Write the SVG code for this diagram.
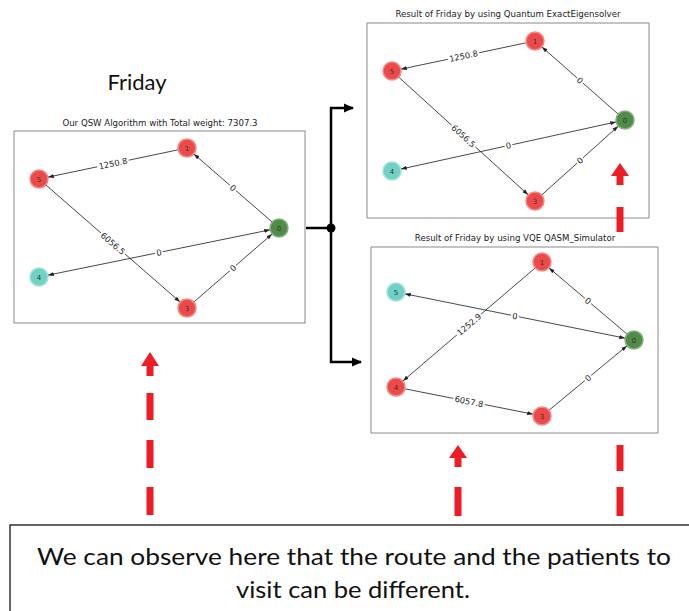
<svg xmlns="http://www.w3.org/2000/svg" width="689" height="611" viewBox="0 0 689 611">
<defs>
<style>
.panel{fill:#fff;stroke:#8a8a8a;stroke-width:1}
.ptitle{font-family:"DejaVu Sans",sans-serif;font-size:8.6px;fill:#222;text-anchor:middle}
.e{stroke:#333;stroke-width:0.9;fill:none;marker-end:url(#ah)}
.eb{stroke:#333;stroke-width:0.9;fill:none;marker-end:url(#ah);marker-start:url(#ahs)}
.lbl{font-family:"DejaVu Sans",sans-serif;font-size:8.3px;fill:#222;text-anchor:middle}
.lbg{fill:#fff}
.red{fill:#ec4a4a;stroke:#f58a87;stroke-width:1.5}
.green{fill:#4e8c48;stroke:#84b27e;stroke-width:1.5}
.teal{fill:#6fd2c4;stroke:#a2e2d9;stroke-width:1.5}
.nt{font-family:"DejaVu Sans",sans-serif;font-size:7px;fill:#333;text-anchor:middle}
.ra{fill:#ee1c24}
.big{font-family:Lato,"Open Sans",sans-serif;fill:#111}
</style>
<marker id="ah" markerUnits="userSpaceOnUse" markerWidth="6" markerHeight="6" viewBox="0 0 6 6" refX="6" refY="3" orient="auto"><path d="M0,1 L6,3 L0,5 Z" fill="#222"/></marker>
<marker id="ahs" markerUnits="userSpaceOnUse" markerWidth="6" markerHeight="6" viewBox="0 0 6 6" refX="6" refY="3" orient="auto-start-reverse"><path d="M0,1 L6,3 L0,5 Z" fill="#222"/></marker>
<marker id="bk" markerUnits="userSpaceOnUse" markerWidth="10" markerHeight="10" viewBox="0 0 10 10" refX="9" refY="5" orient="auto"><path d="M0,0.5 L10,5 L0,9.5 Z" fill="#000"/></marker>
</defs>
<rect width="689" height="611" fill="#fff"/>

<text id="friday" class="big" x="137" y="90" font-size="22" text-anchor="middle">Friday</text>

<!-- Left panel -->
<g id="panel-qsw">
<text class="ptitle" x="160" y="126" font-size="9">Our QSW Algorithm with Total weight: 7307.3</text>
<rect class="panel" x="14" y="131" width="291" height="192"/>
</g>
<!-- Top-right panel -->
<g id="panel-exact">
<text class="ptitle" x="508" y="17">Result of Friday by using Quantum ExactEigensolver</text>
<rect class="panel" x="367" y="23" width="282" height="195"/>
</g>
<!-- Bottom-right panel -->
<g id="panel-vqe">
<text class="ptitle" x="515" y="241">Result of Friday by using VQE QASM_Simulator</text>
<rect class="panel" x="371" y="247" width="287" height="186"/>
</g>

<g id="connectors">
<!-- left graph -->
<line class="e" x1="178.2" y1="149.8" x2="47.8" y2="177.2"/>
<line class="e" x1="272.2" y1="222.1" x2="193.8" y2="153.9"/>
<line class="e" x1="45.8" y1="184.9" x2="180.2" y2="302.1"/>
<line class="eb" x1="270.2" y1="229.8" x2="47.8" y2="275.2"/>
<line class="e" x1="193.8" y1="302.1" x2="272.2" y2="233.9"/>
<!-- top-right graph -->
<line class="e" x1="526.2" y1="42.8" x2="400.8" y2="69.2"/>
<line class="e" x1="618.2" y1="114.1" x2="541.8" y2="46.9"/>
<line class="e" x1="398.7" y1="77.1" x2="528.3" y2="194.9"/>
<line class="eb" x1="616.2" y1="121.9" x2="400.8" y2="169.1"/>
<line class="e" x1="541.7" y1="195" x2="618.3" y2="126"/>
<!-- bottom-right graph -->
<line class="e" x1="627.1" y1="334.2" x2="548.9" y2="267.8"/>
<line class="eb" x1="625.2" y1="338.2" x2="404.8" y2="293.8"/>
<line class="e" x1="535.2" y1="267.9" x2="402.8" y2="381.1"/>
<line class="e" x1="404.8" y1="388.8" x2="533.2" y2="414.2"/>
<line class="e" x1="548.9" y1="410.3" x2="627.1" y2="345.7"/>
<!-- black flow connector -->
<g id="flow" stroke="#000" stroke-width="2.5" fill="none">
<line x1="306" y1="228" x2="331" y2="228"/>
<polyline points="331,228 331,108 353,108" marker-end="url(#bk)"/>
<polyline points="331,228 331,362 361,362" marker-end="url(#bk)"/>
</g>
<circle cx="331" cy="228" r="4.5" fill="#000"/>
</g>

<!-- edge labels -->
<g id="edge-labels">
<g transform="translate(113,163.5) rotate(-11.8)"><rect class="lbg" x="-16" y="-5" width="32" height="10"/><text class="lbl" y="3">1250.8</text></g>
<g transform="translate(233,188) rotate(41)"><rect class="lbg" x="-4" y="-5" width="8" height="10"/><text class="lbl" y="3">0</text></g>
<g transform="translate(113,243.5) rotate(41.1)"><rect class="lbg" x="-16" y="-5" width="32" height="10"/><text class="lbl" y="3">6056.5</text></g>
<g transform="translate(159,252.5) rotate(-11.5)"><rect class="lbg" x="-4" y="-5" width="8" height="10"/><text class="lbl" y="3">0</text></g>
<g transform="translate(233,268) rotate(-41)"><rect class="lbg" x="-4" y="-5" width="8" height="10"/><text class="lbl" y="3">0</text></g>

<g transform="translate(463.5,56) rotate(-11.8)"><rect class="lbg" x="-16" y="-5" width="32" height="10"/><text class="lbl" y="3">1250.8</text></g>
<g transform="translate(580,80.5) rotate(41.3)"><rect class="lbg" x="-4" y="-5" width="8" height="10"/><text class="lbl" y="3">0</text></g>
<g transform="translate(463.5,136) rotate(42.3)"><rect class="lbg" x="-16" y="-5" width="32" height="10"/><text class="lbl" y="3">6056.5</text></g>
<g transform="translate(508.5,145.5) rotate(-12.3)"><rect class="lbg" x="-4" y="-5" width="8" height="10"/><text class="lbl" y="3">0</text></g>
<g transform="translate(580,160.5) rotate(-42)"><rect class="lbg" x="-4" y="-5" width="8" height="10"/><text class="lbl" y="3">0</text></g>

<g transform="translate(588,301) rotate(40.3)"><rect class="lbg" x="-4" y="-5" width="8" height="10"/><text class="lbl" y="3">0</text></g>
<g transform="translate(515,316) rotate(11.4)"><rect class="lbg" x="-4" y="-5" width="8" height="10"/><text class="lbl" y="3">0</text></g>
<g transform="translate(469,324.5) rotate(-40.6)"><rect class="lbg" x="-16" y="-5" width="32" height="10"/><text class="lbl" y="3">1252.9</text></g>
<g transform="translate(469,401.5) rotate(11.2)"><rect class="lbg" x="-16" y="-5" width="32" height="10"/><text class="lbl" y="3">6057.8</text></g>
<g transform="translate(588,378) rotate(-39.6)"><rect class="lbg" x="-4" y="-5" width="8" height="10"/><text class="lbl" y="3">0</text></g>
</g>

<!-- nodes: left -->
<g id="L1"><circle class="red" cx="187" cy="148" r="9"/><text class="nt" x="187" y="150.5">1</text></g>
<g id="L5"><circle class="red" cx="39" cy="179" r="9"/><text class="nt" x="39" y="181.5">5</text></g>
<g id="L0"><circle class="green" cx="279" cy="228" r="9"/><text class="nt" x="279" y="230.5">0</text></g>
<g id="L4"><circle class="teal" cx="39" cy="277" r="9"/><text class="nt" x="39" y="279.5">4</text></g>
<g id="L3"><circle class="red" cx="187" cy="308" r="9"/><text class="nt" x="187" y="310.5">3</text></g>
<!-- nodes: top-right -->
<g id="T1"><circle class="red" cx="535" cy="41" r="9"/><text class="nt" x="535" y="43.5">1</text></g>
<g id="T5"><circle class="red" cx="392" cy="71" r="9"/><text class="nt" x="392" y="73.5">5</text></g>
<g id="T0"><circle class="green" cx="625" cy="120" r="9"/><text class="nt" x="625" y="122.5">0</text></g>
<g id="T4"><circle class="teal" cx="392" cy="171" r="9"/><text class="nt" x="392" y="173.5">4</text></g>
<g id="T3"><circle class="red" cx="535" cy="201" r="9"/><text class="nt" x="535" y="203.5">3</text></g>
<!-- nodes: bottom-right -->
<g id="B1"><circle class="red" cx="542" cy="262" r="9"/><text class="nt" x="542" y="264.5">1</text></g>
<g id="B5"><circle class="teal" cx="396" cy="292" r="9"/><text class="nt" x="396" y="294.5">5</text></g>
<g id="B0"><circle class="green" cx="634" cy="340" r="9"/><text class="nt" x="634" y="342.5">0</text></g>
<g id="B4"><circle class="red" cx="396" cy="387" r="9"/><text class="nt" x="396" y="389.5">4</text></g>
<g id="B3"><circle class="red" cx="542" cy="416" r="9"/><text class="nt" x="542" y="418.5">3</text></g>

<!-- red dashed arrows -->
<g id="red-arrow-left">
<path class="ra" d="M150,352 L159,366 L153.5,366 L153.5,376 L146.5,376 L146.5,366 L141,366 Z"/>
<rect class="ra" x="146.5" y="393" width="7" height="27"/>
<rect class="ra" x="146.5" y="440" width="7" height="28"/>
<rect class="ra" x="146.5" y="487" width="7" height="28"/>
</g>
<g id="red-arrow-mid">
<path class="ra" d="M458,445 L467,458 L461.5,458 L461.5,467 L454.5,467 L454.5,458 L449,458 Z"/>
<rect class="ra" x="454.5" y="487" width="7" height="29"/>
</g>
<g id="red-arrow-right">
<rect class="ra" x="616.5" y="445" width="7" height="26"/>
<rect class="ra" x="616.5" y="487" width="7" height="29"/>
<path class="ra" d="M620,163 L629,176 L623.5,176 L623.5,185 L616.5,185 L616.5,176 L611,176 Z"/>
<rect class="ra" x="616.5" y="207" width="7" height="25"/>
</g>

<g id="note">
<rect x="10" y="525" width="690" height="100" fill="none" stroke="#333" stroke-width="1.5"/>
<text class="big" x="354" y="565" font-size="24" text-anchor="middle" textLength="634" lengthAdjust="spacingAndGlyphs">We can observe here that the route and the patients to</text>
<text class="big" x="353" y="598" font-size="24" text-anchor="middle" textLength="234" lengthAdjust="spacingAndGlyphs">visit can be different.</text>
</g>
</svg>
